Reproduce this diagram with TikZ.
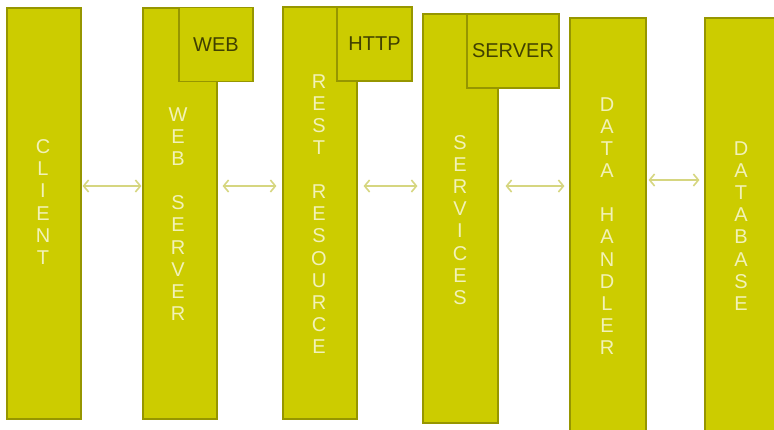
\documentclass[tikz,border=0pt]{standalone}
\usepackage{fontspec}
\setmainfont{Liberation Sans}
\usepackage{xcolor}
\usepackage{tikz}
\usetikzlibrary{arrows.meta, positioning}
\definecolor{boxfill}{RGB}{204,204,0}
\definecolor{boxline}{RGB}{150,150,0}
\definecolor{pale}{RGB}{242,242,184}
\definecolor{tabtext}{RGB}{64,64,0}
\definecolor{linkcol}{RGB}{214,214,128}
\tikzstyle{tier} = [rectangle, draw=boxline, fill=boxfill, line width=1.1pt, inner sep=0pt]
\tikzstyle{tab} = [rectangle, draw=boxline, fill=boxfill, line width=1.1pt, inner sep=0pt, minimum height=74pt, text=tabtext, font=\fontsize{20}{22}\selectfont]
\tikzstyle{vlabel} = [align=center, text=pale, inner sep=0pt, font=\fontsize{20}{22.1}\selectfont]
\tikzstyle{link} = [line width=1.6pt, draw=linkcol, <->, >={Straight Barb[length=5pt,width=12pt]}]

\begin{document}
\begin{tikzpicture}[x=1pt, y=-1pt]
    \useasboundingbox (0,0) rectangle (774,429);
    % the six tiers
    \node (client) [tier, minimum width=74pt, minimum height=411pt] at (44,213.5) {};
    \node (websrv) [tier, minimum width=74pt, minimum height=411pt] at (180,213.5) {};
    \node (rest) [tier, minimum width=74pt, minimum height=412pt] at (320,213) {};
    \node (services) [tier, minimum width=75pt, minimum height=409pt] at (460.5,218.5) {};
    \node (handler) [tier, minimum width=76pt, minimum height=418pt] at (608,227) {};
    \node (database) [tier, minimum width=80pt, minimum height=418pt] at (745,227) {};

    % tabs on top
    \node (webtab) [tab, minimum width=74pt] at (216,44.5) {WEB};
    \node (httptab) [tab, minimum width=75pt] at (374.5,44) {HTTP};
    \node (servertab) [tab, minimum width=92pt] at (513,51) {SERVER};

    % labels
    \node (clientlbl) [vlabel] at (43,202) {C\\L\\I\\E\\N\\T};
    \node (websrvlbl) [vlabel] at (178,214) {W\\E\\B\\[22.1pt]S\\E\\R\\V\\E\\R};
    \node (restlbl) [vlabel] at (319,214) {R\\E\\S\\T\\[22.1pt]R\\E\\S\\O\\U\\R\\C\\E};
    \node (serviceslbl) [vlabel] at (460,220) {S\\E\\R\\V\\I\\C\\E\\S};
    \node (handlerlbl) [vlabel] at (607,226) {D\\A\\T\\A\\[22.1pt]H\\A\\N\\D\\L\\E\\R};
    \node (databaselbl) [vlabel] at (741,226) {D\\A\\T\\A\\B\\A\\S\\E};

    \draw [link] ([xshift=1pt]client.east |- 0,186) -- ([xshift=-1pt]websrv.west |- 0,186);
    \draw [link] ([xshift=5pt]websrv.east |- 0,186) -- ([xshift=-6pt]rest.west |- 0,186);
    \draw [link] ([xshift=6pt]rest.east |- 0,186) -- ([xshift=-5pt]services.west |- 0,186);
    \draw [link] ([xshift=7pt]services.east |- 0,186) -- ([xshift=-5pt]handler.west |- 0,186);
    \draw [link] ([xshift=2pt]handler.east |- 0,180) -- ([xshift=-5pt]database.west |- 0,180);
\end{tikzpicture}
\end{document}
